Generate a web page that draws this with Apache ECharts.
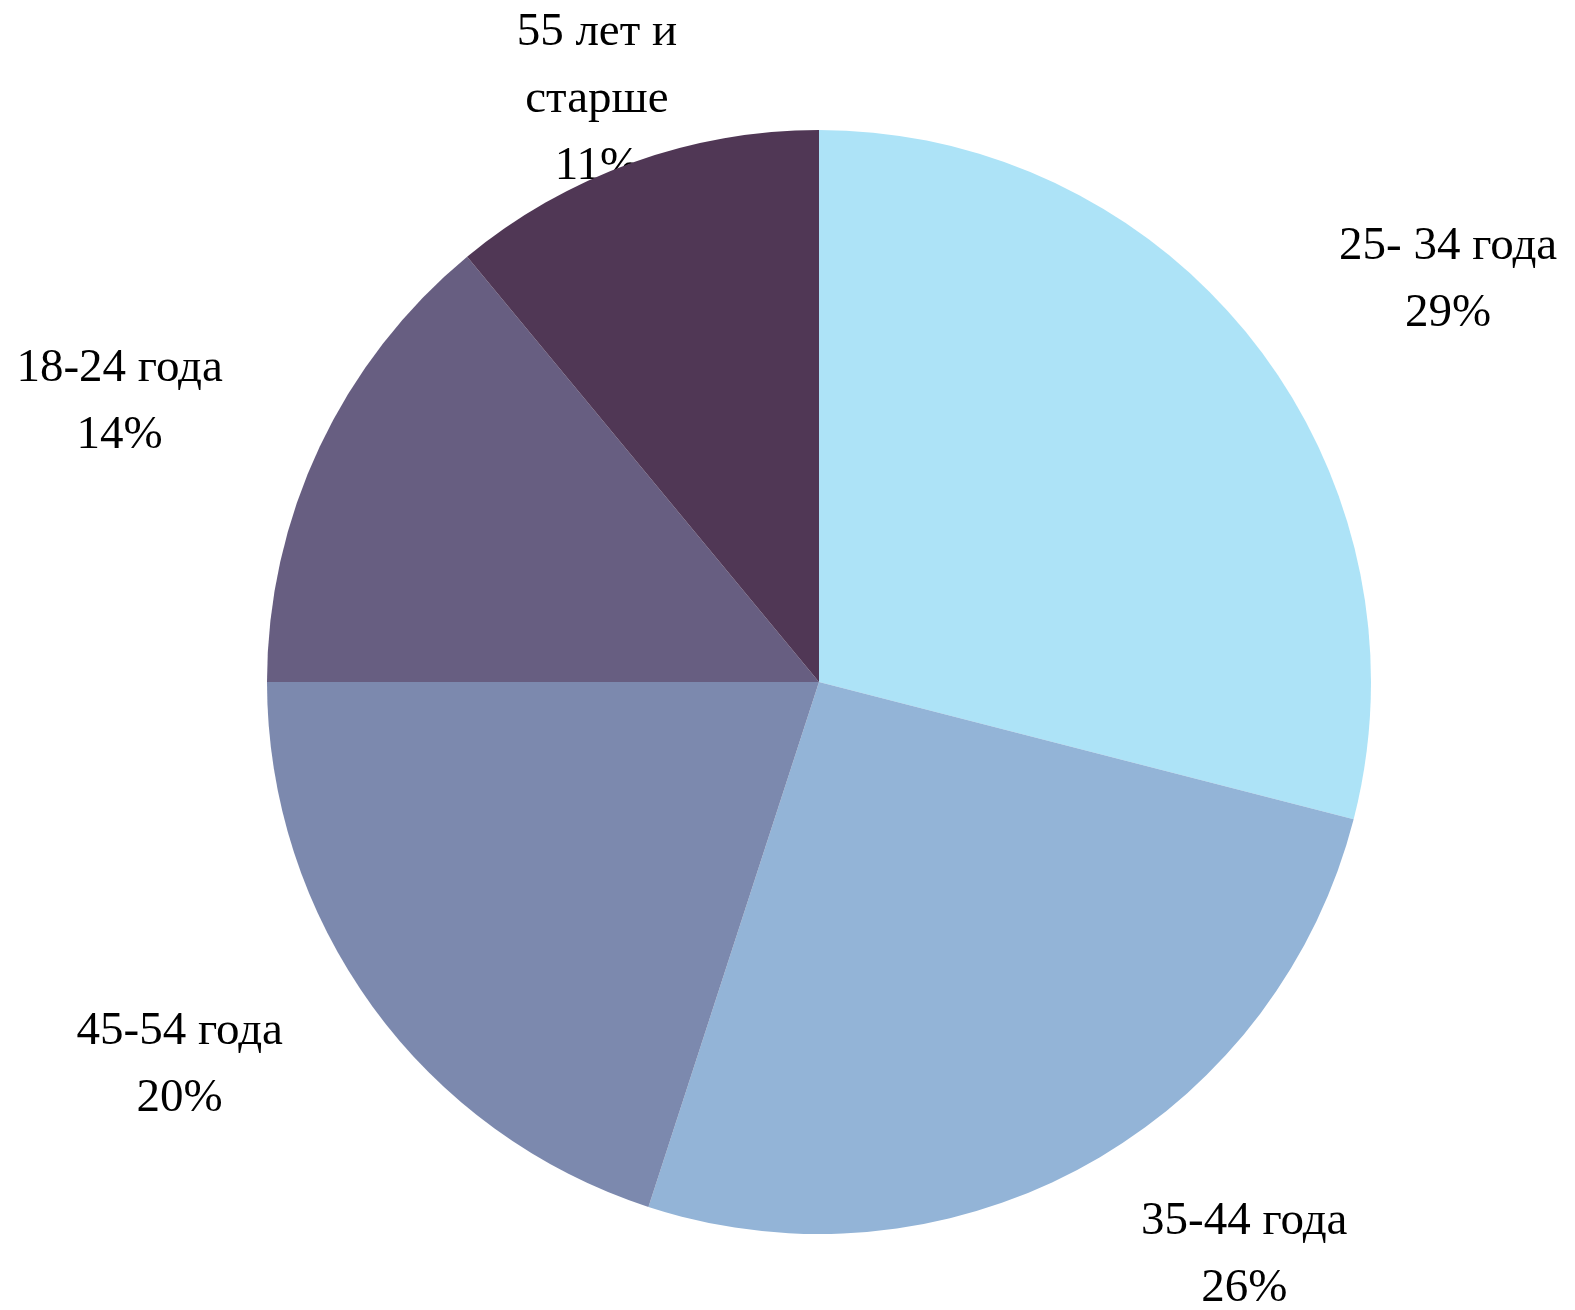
<!DOCTYPE html>
<html>
<head>
<meta charset="utf-8">
<script src="https://cdn.jsdelivr.net/npm/echarts@6/dist/echarts.min.js"></script>
<style>
  html, body { margin: 0; padding: 0; background: #ffffff; }
  #chart { width: 1575px; height: 1310px; }
</style>
</head>
<body>
<div id="chart"></div>
<script>
const categories = ['25- 34 года', '35-44 года', '45-54 года', '18-24 года', '55 лет и старше'];
const values = [29, 26, 20, 14, 11];

const colors = ['#ADE3F7', '#93B4D7', '#7C89AE', '#675E81', '#503755'];
const CENTER = [819, 682];
const RADIUS = 552;
const LABEL_DIST = 700;
// small per-label placement tweaks (px), mimicking the original best-fit placement
const labelNudge = [[76, 27], [88, -40], [-73, -28], [-66, 18], [15, 76]];
const MAX_LINE_CHARS = 11;

const total = values.reduce((a, b) => a + b, 0);
const midAngles = [];
{
  let acc = 0;
  values.forEach(v => { midAngles.push((acc + v / 2) / total * 2 * Math.PI); acc += v; });
}

function wrapName(name) {
  const words = name.split(' ');
  const lines = [];
  let cur = '';
  words.forEach(w => {
    const next = cur ? cur + ' ' + w : w;
    if (next.length > MAX_LINE_CHARS && cur) { lines.push(cur); cur = w; }
    else cur = next;
  });
  if (cur) lines.push(cur);
  return lines.join('\n');
}

const chart = echarts.init(document.getElementById('chart'), null, { renderer: 'canvas' });
chart.setOption({
  backgroundColor: '#ffffff',
  animation: false,
  series: [
    {
      type: 'pie',
      z: 1,
      silent: true,
      center: CENTER,
      radius: RADIUS,
      startAngle: 90,
      clockwise: true,
      avoidLabelOverlap: false,
      data: categories.map((name, i) => ({ name: name, value: values[i], itemStyle: { color: 'rgba(0,0,0,0)' } })),
      itemStyle: { borderWidth: 0 },
      label: {
        show: true,
        position: 'outside',
        formatter: p => wrapName(p.name) + '\n' + p.percent + '%',
        fontFamily: '"Liberation Serif", "DejaVu Serif", serif',
        fontSize: 47,
        lineHeight: 67,
        color: '#000000',
        align: 'center',
        overflow: 'none'
      },
      labelLine: { show: false },
      labelLayout: function (p) {
        const i = p.dataIndex;
        const a = midAngles[i];
        return {
          x: CENTER[0] + LABEL_DIST * Math.sin(a) + labelNudge[i][0],
          y: CENTER[1] - LABEL_DIST * Math.cos(a) + labelNudge[i][1],
          align: 'center',
          verticalAlign: 'middle'
        };
      }
    },
    {
      type: 'pie',
      z: 2,
      silent: true,
      center: CENTER,
      radius: RADIUS,
      startAngle: 90,
      clockwise: true,
      data: categories.map((name, i) => ({ name: name, value: values[i], itemStyle: { color: colors[i] } })),
      itemStyle: { borderWidth: 0 },
      label: { show: false },
      labelLine: { show: false }
    }
  ]
});
</script>
</body>
</html>
